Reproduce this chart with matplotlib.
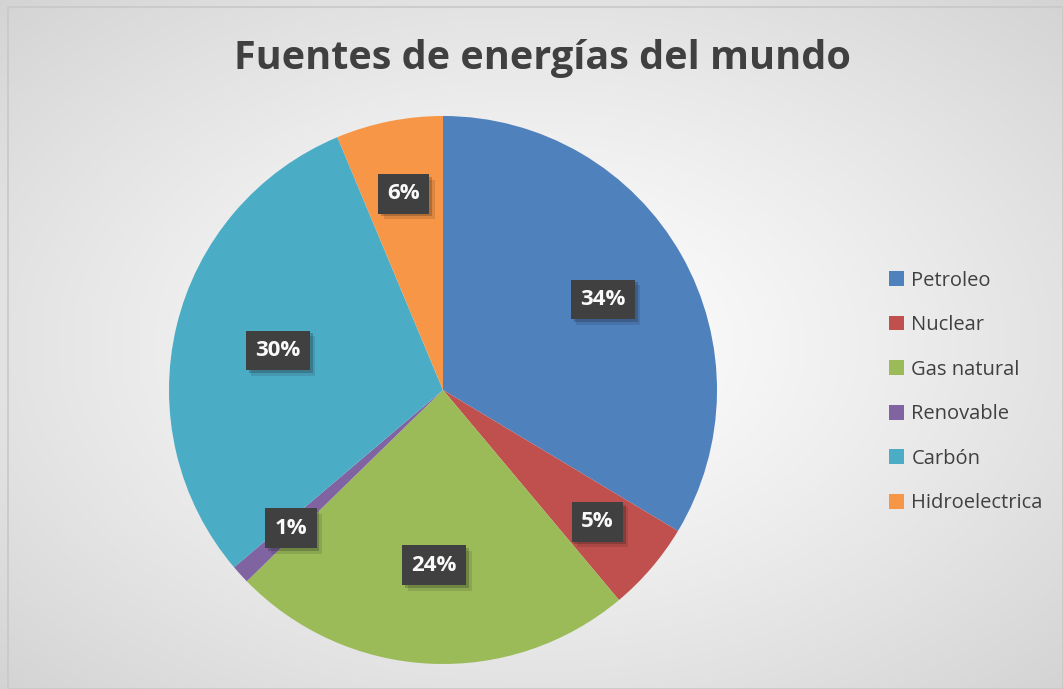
import matplotlib
matplotlib.use("Agg")
import matplotlib.pyplot as plt
import matplotlib.patheffects as pe
import numpy as np
from matplotlib.patches import Rectangle

plt.rcParams["font.family"] = ["Open Sans", "DejaVu Sans"]

labels = ["Petroleo", "Nuclear", "Gas natural", "Renovable", "Carbón", "Hidroelectrica"]
values = [33.6, 5.3, 23.8, 1.1, 29.9, 6.3]
colors = ["#4F81BD", "#C0504D", "#9BBB59", "#8064A2", "#4BACC6", "#F79646"]
title = "Fuentes de energías del mundo"

# how far out (fraction of radius) each data label sits, like Excel's best fit
label_r = [0.67, 0.74, 0.64, 0.75, 0.62, 0.73]

W, H = 1063, 689
fig = plt.figure(figsize=(W / 100, H / 100), dpi=100)

# radial gradient background
bg = fig.add_axes([0, 0, 1, 1])
yy, xx = np.mgrid[0:1:300j, 0:1:460j]
r = np.sqrt(((xx - 0.5) / 0.5) ** 2 + ((yy - 0.5) / 0.5) ** 2) / np.sqrt(2)
shade = 1.0 - 0.17 * np.clip(r, 0, 1) ** 1.2
bg.imshow(np.dstack([shade] * 3), extent=[0, 1, 0, 1], aspect="auto", origin="lower")
bg.add_patch(Rectangle((8 / W, 0.5 / H), 1 - 8 / W, (H - 7) / H, fill=False,
                       edgecolor="#c8c8c8", lw=1.2, transform=bg.transAxes))
bg.set_axis_off()

# pie
cx, cy, rad = 443, 390, 274
ax = fig.add_axes([(cx - rad) / W, (H - cy - rad) / H, 2 * rad / W, 2 * rad / H])
wedges, _ = ax.pie(values, colors=colors, startangle=90, counterclock=False,
                   radius=1, wedgeprops=dict(linewidth=0))
total = sum(values)
for w, v, d in zip(wedges, values, label_r):
    a = np.deg2rad((w.theta1 + w.theta2) / 2)
    t = ax.text(d * np.cos(a), d * np.sin(a), f"{v / total * 100:.0f}%",
                ha="center", va="center", color="#fafafa", fontweight="bold",
                fontsize=16,
                bbox=dict(boxstyle="square,pad=0.42", facecolor="#404040",
                          edgecolor="none"))
    t.get_bbox_patch().set_path_effects([
        pe.SimplePatchShadow(offset=(4, -4), alpha=0.12),
        pe.SimplePatchShadow(offset=(2, -2), alpha=0.22),
        pe.Normal()])
ax.set_xlim(-1, 1)
ax.set_ylim(-1, 1)
ax.set_aspect("equal")
ax.set_axis_off()

fig.text(542 / W, 1 - 58 / H, title, ha="center", va="center", fontsize=28.5,
         fontweight="bold", color="#404040")

leg = fig.legend(wedges, labels, loc="center left", bbox_to_anchor=(871 / W, 1 - 392 / H),
                 frameon=False, fontsize=14.5, handlelength=0.75, handleheight=0.75,
                 handletextpad=0.35, labelspacing=1.22, labelcolor="#404040")

fig.savefig("out.png", dpi=100)
